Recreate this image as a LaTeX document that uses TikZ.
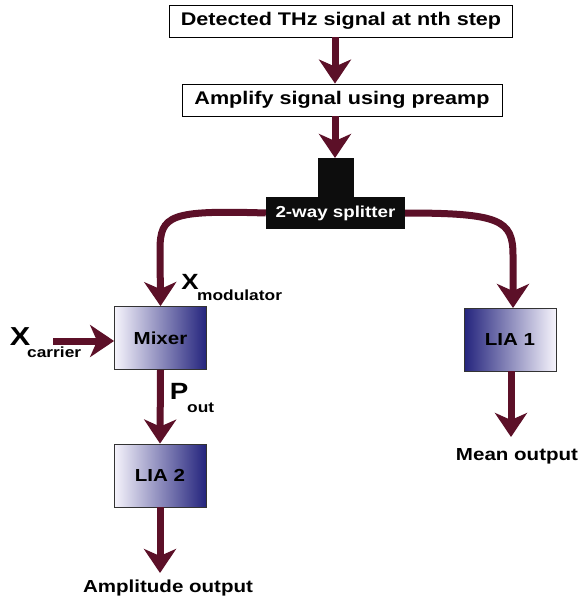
\documentclass[tikz,border=0pt]{standalone}
\usepackage{fontspec}
\setmainfont[FakeStretch=1.18]{Liberation Sans}
\usetikzlibrary{arrows.meta,positioning}
\definecolor{wine}{RGB}{92,16,40}
\definecolor{navy}{RGB}{36,36,125}
\definecolor{violetmid}{RGB}{124,116,194}
\definecolor{lilac}{RGB}{246,244,252}
\tikzset{
	flow/.style={
		draw=wine,
		line width=7pt,
		-{Stealth[length=24pt,width=32pt,inset=7pt]}
	}
}

\begin{document}
\begin{tikzpicture}[x=1pt,y=-1pt]
		\tikzstyle{txtbox}=[rectangle, draw=black, line width=0.8pt, font=\bfseries\fontsize{18.3}{20}\selectfont, minimum height=32pt, inner xsep=4pt]
		\tikzstyle{lia}=[rectangle, draw=black!80, line width=0.8pt, minimum width=92pt, minimum height=63pt, font=\bfseries\fontsize{17.4}{19}\selectfont]
		\tikzstyle{lbl}=[font=\bfseries\fontsize{17.4}{19}\selectfont, inner sep=0pt]
		\tikzstyle{sym}=[inner sep=0pt, font=\bfseries\fontsize{22}{24}\selectfont]
		\tikzstyle{sub}=[inner sep=0pt, anchor=base west, font=\bfseries\fontsize{14.7}{16}\selectfont]
		\useasboundingbox (0,0) rectangle (579,599);
		\node[txtbox, minimum width=343pt] (detect) at (341,21) {Detected THz signal at nth step};
		\node[txtbox, minimum width=320pt] (amp) at (342,100) {Amplify signal using preamp};
		\fill[black!95] (318,158) rectangle (354,198);
		\node[rectangle, fill=black!95, text=white, minimum width=139pt, minimum height=32pt, font=\bfseries\fontsize{15.9}{18}\selectfont] (split) at (335.5,213) {2-way splitter};
		\node[lia, left color=lilac, middle color=violetmid, right color=navy] (mixer) at (160.5,338) {Mixer};
		\node[lia, left color=lilac, middle color=violetmid, right color=navy] (lia2) at (160,475.5) {LIA 2};
		\node[lia, left color=navy, middle color=violetmid, right color=lilac] (lia1) at (510,339.5) {LIA 1};
		\node[lbl] (amplout) at (168,588) {Amplitude output};
		\node[lbl] (meanout) at (517,456) {Mean output};
		
		% input labels
		\node[sym, font=\bfseries\fontsize{26}{28}\selectfont] (xc) at (20,337) {X};
		\node[sub] (xcsub) at (27,357) {carrier};
		\node[sym] (xm) at (190,282) {X};
		\node[sub] (xmsub) at (197,300) {modulator};
		\node[sym, font=\bfseries\fontsize{23.5}{25}\selectfont] (po) at (179,391) {P};
		\node[sub] (posub) at (187,412) {out};
		\coordinate (cin) at (53,341);
		\coordinate (stub) at (335,158);
		\coordinate (ampout) at (335,573);
		\coordinate (meanend) at (511,437);
		
		\draw[flow] (detect.south -| stub) -- (amp.north -| stub);
		\draw[flow] (amp.south -| stub) -- (stub);
		\draw[flow] (split.west) .. controls (170,210) and (160,215) .. (160,250) -- (mixer.north);
		\draw[flow] (split.east) .. controls (500,213) and (513,220) .. (513,255) -- (513,308);
		\draw[flow] (cin) -- (cin -| mixer.west);
		\draw[flow] (mixer.south) -- (lia2.north);
		\draw[flow] (lia2.south) -- (lia2.south |- ampout);
		\draw[flow] (lia1.south -| meanend) -- (meanend);
		
\end{tikzpicture}
\end{document}
